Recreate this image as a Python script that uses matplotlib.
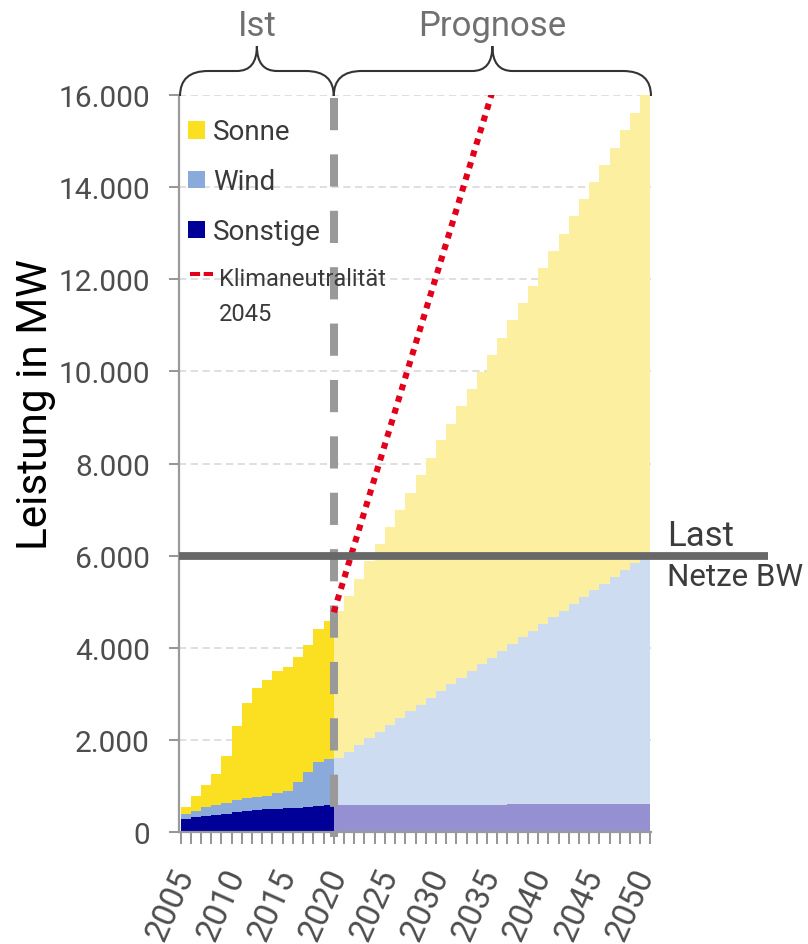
import matplotlib
matplotlib.use("Agg")
import matplotlib.pyplot as plt
from matplotlib.patches import Rectangle, PathPatch
from matplotlib.path import Path
from matplotlib.lines import Line2D

plt.rcParams['font.family'] = ['Roboto', 'DejaVu Sans']

# ---------------- data ----------------
years_ist = list(range(2005, 2020))
sonstige_ist = [280, 320, 350, 370, 400, 430, 460, 480, 490, 510, 530, 530, 540, 560, 580]
wind_ist = [100, 140, 200, 220, 240, 260, 280, 270, 300, 330, 350, 560, 770, 970, 1000]
sonne_ist = [170, 330, 470, 680, 1020, 1620, 2070, 2380, 2510, 2650, 2710, 2710, 2760, 2880, 3000]

years_prog = list(range(2020, 2051))
sonstige_prog = [590, 590, 590, 590, 590, 580, 595, 595, 595, 595, 595, 595, 595, 595, 595, 595,
                 595, 600, 600, 600, 600, 600, 600, 600, 600, 600, 605, 605, 605, 605, 605]
wind_prog = [1010, 1150, 1300, 1440, 1590, 1740, 1885, 2025, 2165, 2315, 2465, 2615, 2755, 2905,
             3045, 3185, 3335, 3480, 3630, 3770, 3920, 4070, 4200, 4350, 4500, 4650, 4785, 4935,
             5085, 5225, 5325]
sonne_prog = [3200, 3390, 3610, 3850, 4070, 4300, 4520, 4750, 4990, 5220, 5440, 5650, 5890, 6110,
              6350, 6580, 6805, 7040, 7260, 7490, 7720, 7940, 8190, 8420, 8640, 8860, 9100, 9320,
              9550, 9790, 10070]

klima_years = [2019.5, 2045]
klima_values = [4770, 23330]

last_value = 6000
tick_years = list(range(2005, 2051, 5))
y_ticks = list(range(0, 16001, 2000))

series_labels = ["Sonne", "Wind", "Sonstige"]
col_ist = {"Sonne": "#fbe022", "Wind": "#8aaadb", "Sonstige": "#000099"}
col_prog = {"Sonne": "#fcf0a0", "Wind": "#cddcf0", "Sonstige": "#9490d2"}

W, H = 808, 945
fig = plt.figure(figsize=(W / 100, H / 100), dpi=100)
ax = fig.add_axes([179 / W, (H - 833) / H, (651 - 179) / W, (833 - 96) / H])


def fpx(x, y):
    return (x / W, 1 - y / H)


# ---------------- bars ----------------
def stack(years, son, win, sun, cols):
    b1 = [a + b for a, b in zip(son, win)]
    ax.bar(years, son, width=1.0, color=cols["Sonstige"], linewidth=0, antialiased=False, zorder=2)
    ax.bar(years, win, width=1.0, bottom=son, color=cols["Wind"], linewidth=0, antialiased=False, zorder=2)
    ax.bar(years, sun, width=1.0, bottom=b1, color=cols["Sonne"], linewidth=0, antialiased=False, zorder=2)


stack(years_ist, sonstige_ist, wind_ist, sonne_ist, col_ist)
stack(years_prog, sonstige_prog, wind_prog, sonne_prog, col_prog)

x_left = years_ist[0] - 0.5 - 1.5 / 10.217
x_right = years_prog[-1] + 0.5 + 0.5 / 10.217
ax.set_xlim(x_left, x_right)
ax.set_ylim(0, 16000)

# grid
ax.set_axisbelow(True)
ax.yaxis.grid(True, color='#dcdcdc', linestyle=(0, (4, 2.5)), linewidth=1.3)
ax.xaxis.grid(False)

# spines
for s in ['top', 'right']:
    ax.spines[s].set_visible(False)
for s in ['left', 'bottom']:
    ax.spines[s].set_color('#9a9a9a')
    ax.spines[s].set_linewidth(1.6)

# y ticks
ax.set_yticks(y_ticks)
ax.set_yticklabels([f"{v:,}".replace(",", ".") for v in y_ticks])
ax.tick_params(axis='y', length=7, width=1.3, color='#8c8c8c', pad=14,
               labelsize=21.5, labelcolor='#4d4d4d')

# x ticks: labels at bar centres, marks at bar edges
ax.set_xticks(tick_years)
ax.set_xticklabels([str(y) for y in tick_years], rotation=66, ha='right', va='center',
                   rotation_mode='anchor')
edges = [y - 0.5 for y in years_ist + years_prog] + [years_prog[-1] + 0.5]
ax.set_xticks(edges, minor=True)
ax.tick_params(axis='x', which='major', length=0, pad=27, labelsize=24, labelcolor='#4d4d4d')
ax.tick_params(axis='x', which='minor', length=8.5, width=1.3, color='#8c8c8c')

# separator Ist / Prognose
sep = years_prog[0] - 0.5
ax.plot([sep, sep], [15935, -110], color='#999999', lw=5.8, linestyle=(0, (4, 3)),
        dash_capstyle='butt', clip_on=False, zorder=4)

# Klimaneutralitaet line
ax.plot(klima_years, klima_values, color='#e3001b', lw=4.4, linestyle=(0, (1, 1)),
        dash_capstyle='butt', zorder=5)

# Last line
ax.plot([x_left, 2062.0], [last_value, last_value], color='#686868', lw=5.6,
        solid_capstyle='butt', clip_on=False, zorder=6)
ax.text(2052.1, 6230, "Last", fontsize=25, color='#3c3c3c', ha='left', va='baseline')
ax.text(2052.1, 5360, "Netze BW", fontsize=22.5, color='#3c3c3c', ha='left', va='baseline')

# y label
fig.text(*fpx(36, 405), "Leistung in MW", rotation=90, ha='center', va='center',
         fontsize=30.5, color='black')

# legend (manual)
leg_rows = [(series_labels[0], 140.5), (series_labels[1], 190), (series_labels[2], 240)]
for lab, base in leg_rows:
    x0, y0 = fpx(188, base - 1)
    fig.patches.append(Rectangle((x0, y0), 17 / W, 17.5 / H, transform=fig.transFigure,
                                 facecolor=col_ist[lab], edgecolor='none', figure=fig))
    fig.text(*fpx(213, base), lab, fontsize=20, color='#3a3a3a', ha='left', va='baseline')

lx = [190 / W, 213 / W]
ly = [1 - 275 / H, 1 - 275 / H]
fig.lines.append(Line2D(lx, ly, transform=fig.transFigure, color='#e3001b', lw=2.9,
                        linestyle=(0, (2.5, 0.9)), dash_capstyle='butt'))
fig.text(*fpx(219, 286.5), "Klimaneutralität", fontsize=17, color='#3a3a3a',
         ha='left', va='baseline')
fig.text(*fpx(219, 321.5), "2045", fontsize=17, color='#3a3a3a', ha='left', va='baseline')


# braces
def data_to_px(x):
    disp = ax.transData.transform((x, 0))
    return disp[0]


def brace(xa_data, xb_data, label):
    xa = data_to_px(xa_data)
    xb = data_to_px(xb_data)
    xt = (xa + xb) / 2
    yb, ym, yt = 97, 72, 47
    r1, r2 = 28, 20
    pts = [(xa, yb), (xa, ym), (xa + r1, ym), (xt - r2, ym), (xt, ym), (xt, yt),
           (xt, ym), (xt + r2, ym), (xb - r1, ym), (xb, ym), (xb, yb)]
    codes = [Path.MOVETO, Path.CURVE3, Path.CURVE3, Path.LINETO, Path.CURVE3, Path.CURVE3,
             Path.CURVE3, Path.CURVE3, Path.LINETO, Path.CURVE3, Path.CURVE3]
    verts = [fpx(px, py) for px, py in pts]
    patch = PathPatch(Path(verts, codes), transform=fig.transFigure, facecolor='none',
                      edgecolor='#333333', lw=1.5, figure=fig)
    fig.patches.append(patch)
    fig.text(*fpx(xt, 36), label, fontsize=25, color='#707070', ha='center', va='baseline')


brace(x_left + 0.1, sep, "Ist")
brace(sep, x_right, "Prognose")

fig.savefig("out.png", dpi=100, facecolor='white')
